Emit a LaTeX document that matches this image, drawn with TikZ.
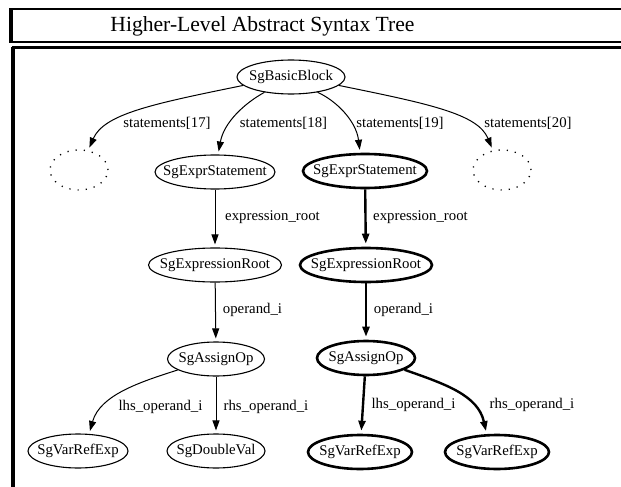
\documentclass[tikz,border=0pt]{standalone}
\usepackage{fontspec}
\setmainfont{Liberation Serif}
\usetikzlibrary{shapes.geometric,arrows.meta,positioning}
\newcommand{\etq}[1]{\makebox[0pt]{#1}}
\newcommand{\astfont}{\fontsize{14.8}{17}\selectfont}
\tikzset{
	astnode/.style={ellipse, draw, line width=1.1pt, minimum height=34pt, inner sep=0pt, font=\astfont},
	hlnode/.style={astnode, line width=2.6pt},
	ghost/.style={ellipse, draw, line width=1.3pt, dash pattern=on 1.2pt off 7pt, minimum width=58pt, minimum height=40pt},
	edge/.style={-{Triangle[length=10pt,width=7pt]}, line width=1pt, shorten >=3pt},
	hledge/.style={edge, line width=2.4pt},
	elabel/.style={font=\astfont, inner sep=0pt},
	frame/.style={line width=2.2pt}
}
\begin{document}
\begin{tikzpicture}[x=1pt,y=-1pt]
	\useasboundingbox (0,0) rectangle (621,487);
	\clip (0,0) rectangle (621,487);
	% les cadres
	\draw[frame] (10.5,9) rectangle (660,42);
	\draw[line width=4pt] (10.5,9) -- (10.5,42);
	\draw[line width=3pt] (13,47.5) rectangle (660,520);
	\draw[line width=4pt] (13,47.5) -- (13,520);
	\node[font=\fontsize{21.6}{24}\selectfont, inner sep=0pt] (titre) at (262.5,26) {Higher-Level Abstract Syntax Tree};
	% les noeuds
	\node[astnode, minimum width=108pt] (bb) at (291,77) {\etq{SgBasicBlock}};
	\node[ghost] (d17) at (79,170) {};
	\node[astnode, minimum width=120pt] (es1) at (215,172) {\etq{SgExprStatement}};
	\node[hlnode, minimum width=124pt] (es2) at (365,171) {\etq{SgExprStatement}};
	\node[ghost] (d20) at (502,170) {};
	\node[astnode, minimum width=133pt] (er1) at (215,265) {\etq{SgExpressionRoot}};
	\node[hlnode, minimum width=132pt] (er2) at (366,265) {\etq{SgExpressionRoot}};
	\node[astnode, minimum width=97pt] (ao1) at (216,359) {\etq{SgAssignOp}};
	\node[hlnode, minimum width=98pt] (ao2) at (366,358) {\etq{SgAssignOp}};
	\node[astnode, minimum width=100pt] (vr1) at (78,451) {\etq{SgVarRefExp}};
	\node[astnode, minimum width=98pt] (dv) at (216,451) {\etq{SgDoubleVal}};
	\node[hlnode, minimum width=104pt] (vr2) at (360,452) {\etq{SgVarRefExp}};
	\node[hlnode, minimum width=104pt] (vr3) at (497,452) {\etq{SgVarRefExp}};
	% les etiquettes
	\node[elabel] (l17) at (167,123) {statements[17]};
	\node[elabel] (l18) at (283.5,123) {statements[18]};
	\node[elabel] (l19) at (400,123) {statements[19]};
	\node[elabel] (l20) at (528,123) {statements[20]};
	\node[elabel] (lexp1) at (272.5,217) {expression\_root};
	\node[elabel] (lexp2) at (420.5,217) {expression\_root};
	\node[elabel] (lop1) at (252.5,310) {operand\_i};
	\node[elabel] (lop2) at (403.5,310) {operand\_i};
	\node[elabel] (llhs1) at (160.5,407) {lhs\_operand\_i};
	\node[elabel] (lrhs1) at (266,407) {rhs\_operand\_i};
	\node[elabel] (llhs2) at (413.5,405) {lhs\_operand\_i};
	\node[elabel] (lrhs2) at (532,405) {rhs\_operand\_i};
	% les aretes
	\draw[edge] (bb.190) .. controls (152,104) and (104,114) .. (d17.65);
	\draw[edge] (bb.210) .. controls (245,103) and (224,122) .. (es1.80);
	\draw[hledge, line width=1pt] (bb.330) .. controls (335,100) and (356,120) .. (es2.105);
	\draw[edge] (bb.350) .. controls (430,104) and (478,114) .. (d20.115);
	\draw[edge] (es1) -- (er1);
	\draw[hledge] (es2) -- (er2);
	\draw[edge] (er1) -- (ao1);
	\draw[hledge] (er2) -- (ao2);
	\draw[edge] (ao1.196) .. controls (140,382) and (100,395) .. (vr1.57);
	\draw[edge] (ao1) -- (dv);
	\draw[hledge] (ao2) -- (vr2);
	\draw[hledge] (ao2.343) .. controls (445,384) and (478,395) .. (vr3.120);
\end{tikzpicture}
\end{document}
